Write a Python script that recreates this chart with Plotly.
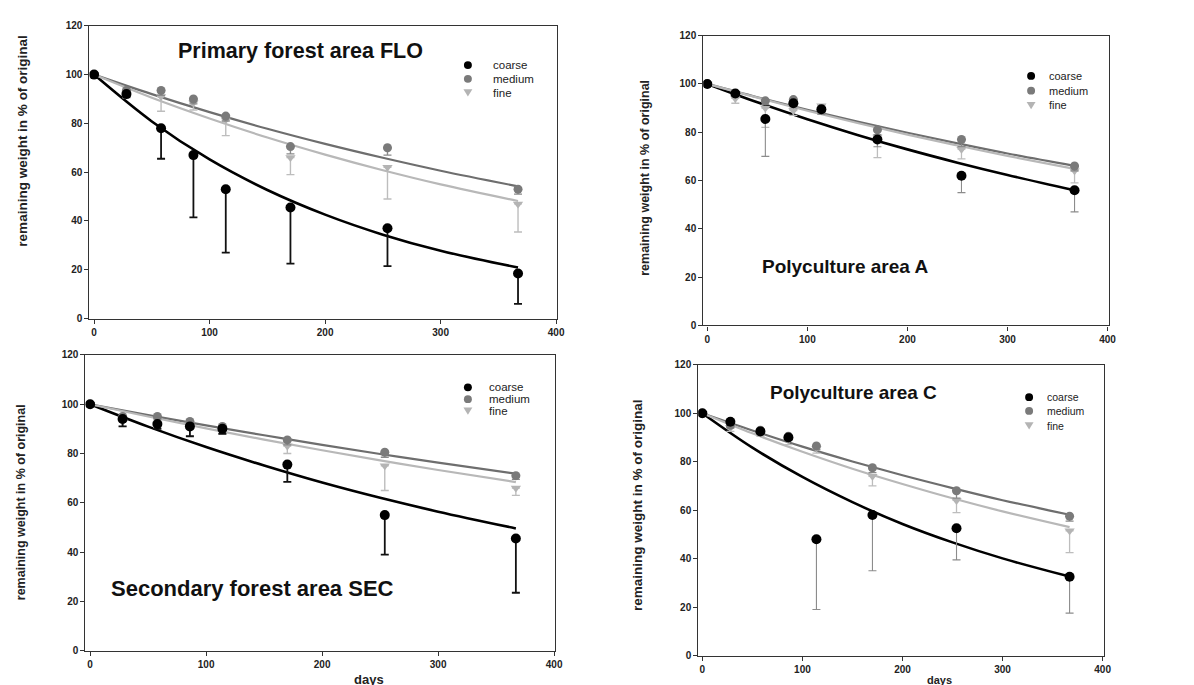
import plotly.graph_objects as go

# ---------------- data ----------------
days = [0, 28, 58, 86, 114, 170, 254, 367]
curve_days = [0, 50, 100, 150, 200, 250, 300, 367]

titles = ["Primary forest area FLO", "Polyculture area A",
          "Secondary forest area SEC", "Polyculture area C"]
series_names = ["coarse", "medium", "fine"]

# Primary forest FLO
flo_coarse = [100, 92, 78, 67, 53, 45.5, 37, 18.5]
flo_coarse_err = [0, 1, 12.5, 25.5, 26, 23, 15.5, 12.5]
flo_medium = [100, 93.5, 93.5, 90, 83, 70.5, 70, 53]
flo_medium_err = [0, 1.5, 2, 2, 2, 3, 3, 2]
flo_fine = [100, 92, 91, 88.5, 81.5, 66, 62, 47]
flo_fine_err = [0, 1.5, 6, 3, 6.5, 7, 13, 11.5]
flo_coarse_fit = [100, 80.8, 65.2, 52.7, 42.6, 34.4, 27.8, 20.9]
flo_medium_fit = [100, 92.0, 84.6, 77.8, 71.6, 65.9, 60.6, 54.2]
flo_fine_fit = [100, 90.5, 82.0, 74.2, 67.2, 60.8, 55.0, 48.2]

# Polyculture area A
pa_coarse = [100, 96, 85.5, 92, 89.5, 77, 62, 56]
pa_coarse_err = [0, 1, 15.5, 2, 2, 3, 7, 9]
pa_medium = [100, 96, 93, 93.5, 89, 81, 77, 66]
pa_medium_err = [0, 1, 1.5, 2, 1.5, 2, 3, 2]
pa_fine = [100, 94, 90, 89, 91, 78, 73, 64]
pa_fine_err = [0, 2, 8, 2, 3, 8.5, 4, 5]
pa_coarse_fit = [100, 92.4, 85.4, 78.9, 72.9, 67.4, 62.3, 56.0]
pa_medium_fit = [100, 94.5, 89.3, 84.4, 79.8, 75.4, 71.2, 66.1]
pa_fine_fit = [100, 94.3, 88.9, 83.8, 79.0, 74.5, 70.2, 64.8]

# Secondary forest SEC
sec_coarse = [100, 94, 92, 91, 90, 75.5, 55, 45.5]
sec_coarse_err = [0, 3, 2, 4, 2, 7, 16, 22]
sec_medium = [100, 95, 95, 93, 91, 85.5, 80.5, 71]
sec_medium_err = [0, 1, 1, 1.5, 1.5, 2, 2, 1.5]
sec_fine = [100, 93, 92, 92, 90, 83, 75, 66]
sec_fine_err = [0, 2, 1.5, 5, 2, 3, 10, 3]
sec_coarse_fit = [100, 90.9, 82.6, 75.1, 68.2, 62.0, 56.4, 49.6]
sec_medium_fit = [100, 95.6, 91.4, 87.4, 83.5, 79.8, 76.3, 71.8]
sec_fine_fit = [100, 95.0, 90.2, 85.6, 81.3, 77.2, 73.3, 68.4]

# Polyculture area C
pc_coarse = [100, 96.5, 92.5, 90, 48, 58, 52.5, 32.5]
pc_coarse_err = [0, 1, 1, 1, 29, 23, 13, 15]
pc_medium = [100, 95, 93, 90.5, 86.5, 77.5, 68, 57.5]
pc_medium_err = [0, 1, 1, 1, 1.5, 2, 3, 2]
pc_fine = [100, 94, 92, 89, 85.5, 74, 64, 51.5]
pc_fine_err = [0, 1.5, 1.5, 2, 2, 4, 5, 9]
pc_coarse_fit = [100, 85.8, 73.7, 63.3, 54.3, 46.7, 40.1, 32.6]
pc_medium_fit = [100, 92.9, 86.2, 80.1, 74.4, 69.1, 64.1, 58.1]
pc_fine_fit = [100, 91.7, 84.1, 77.1, 70.8, 64.9, 59.5, 53.0]

x_ticks = [0, 100, 200, 300, 400]
y_ticks = [0, 20, 40, 60, 80, 100, 120]

panels = [
    dict(vals=[flo_coarse, flo_medium, flo_fine], errs=[flo_coarse_err, flo_medium_err, flo_fine_err],
         fits=[flo_coarse_fit, flo_medium_fit, flo_fine_fit]),
    dict(vals=[pa_coarse, pa_medium, pa_fine], errs=[pa_coarse_err, pa_medium_err, pa_fine_err],
         fits=[pa_coarse_fit, pa_medium_fit, pa_fine_fit]),
    dict(vals=[sec_coarse, sec_medium, sec_fine], errs=[sec_coarse_err, sec_medium_err, sec_fine_err],
         fits=[sec_coarse_fit, sec_medium_fit, sec_fine_fit]),
    dict(vals=[pc_coarse, pc_medium, pc_fine], errs=[pc_coarse_err, pc_medium_err, pc_fine_err],
         fits=[pc_coarse_fit, pc_medium_fit, pc_fine_fit]),
]

# ---------------- layout geometry (pixels) ----------------
W, H = 1194, 685
boxes = [(82, 553, 12, 310), (700, 1108, 22, 317), (78, 551, 347, 648), (695, 1103, 357, 653)]
title_pos = [(294, 38), (843, 257), (246, 585), (851, 385)]
title_size = [21.5, 19, 22, 19]
ytitle_pos = [(15, 129), (641, 167), (13, 497), (633, 500)]
ytitle_size = [13.5, 12.5, 12.5, 13.5]
legend_key_x = [463, 1030, 463, 1028]
legend_text_x = [486, 1046, 482, 1044]
legend_rows = [(52, 66, 80), (63, 78, 93), (380, 392, 404), (390, 404, 419)]
legend_size = [11.5, 11, 11.5, 10.5]
days_pos = [None, None, (363, 677), (938, 678)]

marker_colors = ["#000000", "#7a7a7a", "#b4b4b4"]
line_colors = ["#000000", "#6e6e6e", "#b8b8b8"]
line_widths = [2.6, 2.2, 2.2]
symbols = ["circle", "circle", "triangle-down"]
sizes = [10, 9, 9]
# per panel error-bar colours: (coarse, medium, fine)
err_colors = [("#111111", "#8a8a8a", "#bdbdbd"), ("#8c8c8c", "#8a8a8a", "#bdbdbd"),
              ("#111111", "#8a8a8a", "#bdbdbd"), ("#8c8c8c", "#8a8a8a", "#bdbdbd")]
err_thick = [(1.8, 1.4, 1.4), (1.1, 1.3, 1.3), (1.8, 1.4, 1.4), (1.1, 1.3, 1.3)]

FONT = "Liberation Sans, Arial, sans-serif"

fig = go.Figure()

for p, panel in enumerate(panels):
    n = "" if p == 0 else str(p + 1)
    xa, ya = "x" + n, "y" + n
    for s in range(3):
        fig.add_trace(go.Scatter(
            x=curve_days, y=panel["fits"][s], mode="lines", line_shape="spline",
            line=dict(color=line_colors[s], width=line_widths[s]),
            xaxis=xa, yaxis=ya, showlegend=False, hoverinfo="skip"))
    for s in [2, 1, 0]:
        fig.add_trace(go.Scatter(
            x=days, y=panel["vals"][s], mode="markers", name=series_names[s],
            marker=dict(color=marker_colors[s], symbol=symbols[s], size=sizes[s]),
            error_y=dict(type="data", symmetric=False, array=[0] * len(days),
                         arrayminus=panel["errs"][s], color=err_colors[p][s],
                         thickness=err_thick[p][s], width=4),
            xaxis=xa, yaxis=ya, showlegend=False))

layout = dict(
    width=W, height=H, margin=dict(l=0, r=0, t=0, b=0),
    paper_bgcolor="white", plot_bgcolor="white", showlegend=False,
    font=dict(family=FONT, color="#1a1a1a"),
)
annotations = []
shapes = []
for p, (x0, x1, y0, y1) in enumerate(boxes):
    n = "" if p == 0 else str(p + 1)
    layout["xaxis" + n] = dict(
        domain=[x0 / W, x1 / W], range=[-4, 401], tickvals=x_ticks,
        showgrid=False, zeroline=False, showline=True, mirror=True,
        linecolor="#333333", linewidth=1.2, ticks="outside", ticklen=4,
        tickcolor="#333333", anchor="y" + n,
        tickfont=dict(size=10, family=FONT, weight="bold", color="#222"))
    layout["yaxis" + n] = dict(
        domain=[1 - y1 / H, 1 - y0 / H], range=[0, 120], tickvals=y_ticks,
        showgrid=False, zeroline=False, showline=True, mirror=True,
        linecolor="#333333", linewidth=1.2, ticks="outside", ticklen=4,
        tickcolor="#333333", anchor="x" + n,
        tickfont=dict(size=10, family=FONT, weight="bold", color="#222"))
    # legend keys (shapes) and labels
    kx = legend_key_x[p]
    for s in range(3):
        ry = legend_rows[p][s]
        if symbols[s] == "circle":
            r = 4
            shapes.append(dict(type="circle", xref="paper", yref="paper",
                               x0=(kx - r) / W, x1=(kx + r) / W,
                               y0=1 - (ry + r) / H, y1=1 - (ry - r) / H,
                               fillcolor=marker_colors[s], line=dict(width=0)))
        else:
            path = "M {:.5f} {:.5f} L {:.5f} {:.5f} L {:.5f} {:.5f} Z".format(
                (kx - 4.5) / W, 1 - (ry - 3.5) / H,
                (kx + 4.5) / W, 1 - (ry - 3.5) / H,
                kx / W, 1 - (ry + 4) / H)
            shapes.append(dict(type="path", xref="paper", yref="paper", path=path,
                               fillcolor=marker_colors[s], line=dict(width=0)))
        annotations.append(dict(
            text=series_names[s], x=legend_text_x[p] / W, y=1 - ry / H,
            xref="paper", yref="paper", showarrow=False, xanchor="left", yanchor="middle",
            font=dict(size=legend_size[p], family=FONT, color="#222")))
    tx, ty = title_pos[p]
    annotations.append(dict(
        text=titles[p], x=tx / W, y=1 - ty / H, xref="paper", yref="paper",
        showarrow=False, xanchor="center", yanchor="middle",
        font=dict(size=title_size[p], family=FONT, weight="bold", color="#111")))
    yx, yy = ytitle_pos[p]
    annotations.append(dict(
        text="remaining weight in % of original", x=yx / W, y=1 - yy / H,
        xref="paper", yref="paper", showarrow=False, textangle=-90,
        xanchor="center", yanchor="middle",
        font=dict(size=ytitle_size[p], family=FONT, weight="bold", color="#222")))
    if days_pos[p]:
        dx, dy = days_pos[p]
        annotations.append(dict(
            text="days", x=dx / W, y=1 - dy / H, xref="paper", yref="paper",
            showarrow=False, xanchor="center", yanchor="middle",
            font=dict(size=13 if p == 2 else 11, family=FONT, weight="bold", color="#222")))
layout["annotations"] = annotations
layout["shapes"] = shapes
fig.update_layout(**layout)

fig.write_html("out.html")
